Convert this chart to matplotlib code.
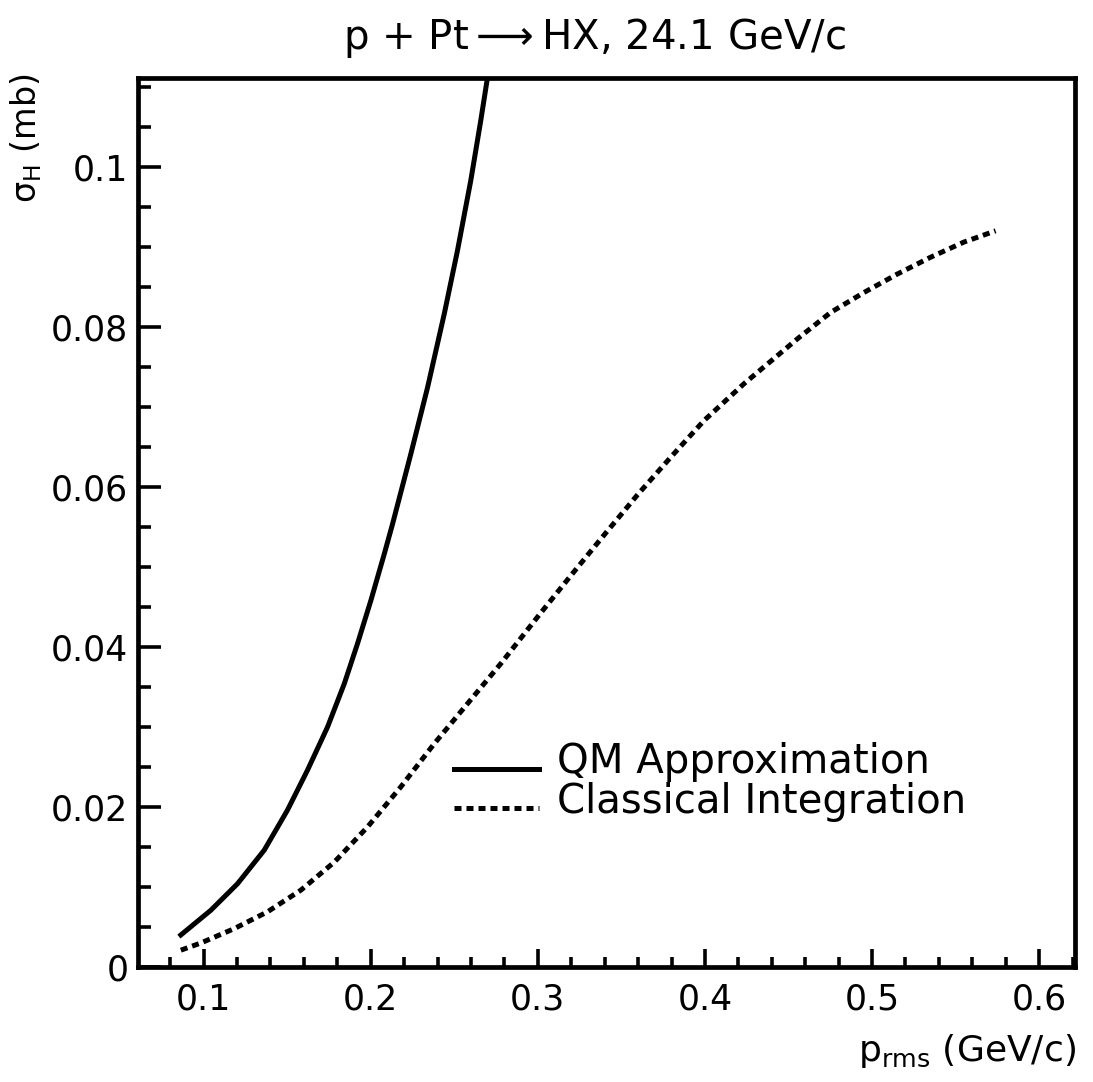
import matplotlib
matplotlib.use("Agg")
import matplotlib.pyplot as plt
from matplotlib.ticker import MultipleLocator

# QM approximation (solid)
qm_p = [0.0864, 0.1044, 0.1203, 0.1363, 0.1502, 0.1622, 0.1742, 0.1842, 0.1921, 0.2001,
        0.2081, 0.2130, 0.2240, 0.2340, 0.2440, 0.2519, 0.2599, 0.2658, 0.2694, 0.2702]
qm_sigma = [0.0040, 0.0071, 0.0104, 0.0146, 0.0196, 0.0246, 0.0300, 0.0354, 0.0404, 0.0458,
            0.0516, 0.0553, 0.0641, 0.0724, 0.0816, 0.0895, 0.0983, 0.1057, 0.1105, 0.1115]

# Classical integration (dotted)
cl_p = [0.0864, 0.0984, 0.1184, 0.1383, 0.1582, 0.1782, 0.1981, 0.2180, 0.2380, 0.2579,
        0.2778, 0.3008, 0.3197, 0.3397, 0.3596, 0.3795, 0.3995, 0.4234, 0.4553, 0.4752,
        0.4952, 0.5151, 0.5350, 0.5550, 0.5739]
cl_sigma = [0.0021, 0.0030, 0.0048, 0.0069, 0.0096, 0.0131, 0.0175, 0.0225, 0.0279, 0.0329,
            0.0379, 0.0440, 0.0489, 0.0540, 0.0590, 0.0637, 0.0683, 0.0729, 0.0785, 0.0818,
            0.0843, 0.0866, 0.0887, 0.0906, 0.0920]

x_ticks = [0.1, 0.2, 0.3, 0.4, 0.5, 0.6]
y_ticks = [0, 0.02, 0.04, 0.06, 0.08, 0.1]
y_ticklabels = ["0", "0.02", "0.04", "0.06", "0.08", "0.1"]

dots = (0, (1.4, 1.0))

fig = plt.figure(figsize=(10.93, 10.82), dpi=100)
ax = fig.add_axes([0.1263, 0.1063, 0.8572, 0.8216])

ax.plot(qm_p, qm_sigma, color="black", lw=3.6)
ax.plot(cl_p, cl_sigma, color="black", lw=3.6, linestyle=dots)

ax.set_xlim(0.0608, 0.6214)
ax.set_ylim(0, 0.1111)

ax.set_xticks(x_ticks)
ax.set_xticklabels([f"{v:.1f}" for v in x_ticks])
ax.set_yticks(y_ticks)
ax.set_yticklabels(y_ticklabels)
ax.xaxis.set_minor_locator(MultipleLocator(0.02))
ax.yaxis.set_minor_locator(MultipleLocator(0.005))

ax.tick_params(which="both", direction="in", top=False, right=False, width=2.6, labelsize=25)
ax.tick_params(axis="x", which="major", length=13, pad=11)
ax.tick_params(axis="x", which="minor", length=7)
ax.tick_params(axis="y", which="major", length=16.5, pad=7)
ax.tick_params(axis="y", which="minor", length=9.5)
for s in ax.spines.values():
    s.set_linewidth(3.4)

# hand-drawn legend, as in the original
ax.plot([0.2501, 0.3010], [0.0248, 0.0248], color="black", lw=3.6)
ax.plot([0.2501, 0.3010], [0.0199, 0.0199], color="black", lw=3.6, linestyle=dots)
ax.text(0.3117, 0.0242, "QM Approximation", fontsize=29, va="baseline", ha="left")
ax.text(0.3117, 0.0193, "Classical Integration", fontsize=29, va="baseline", ha="left")

fig.text(0.544, 0.965, r"p + Pt$\longrightarrow$HX, 24.1 GeV/c", fontsize=29, ha="center", va="center")
fig.text(0.024, 0.932, r"σ$_\mathregular{H}$ (mb)", fontsize=24, rotation=90, ha="center", va="top")
fig.text(0.984, 0.029, r"p$_\mathregular{rms}$ (GeV/c)", fontsize=26, ha="right", va="center")

fig.savefig("out.png", dpi=100)
